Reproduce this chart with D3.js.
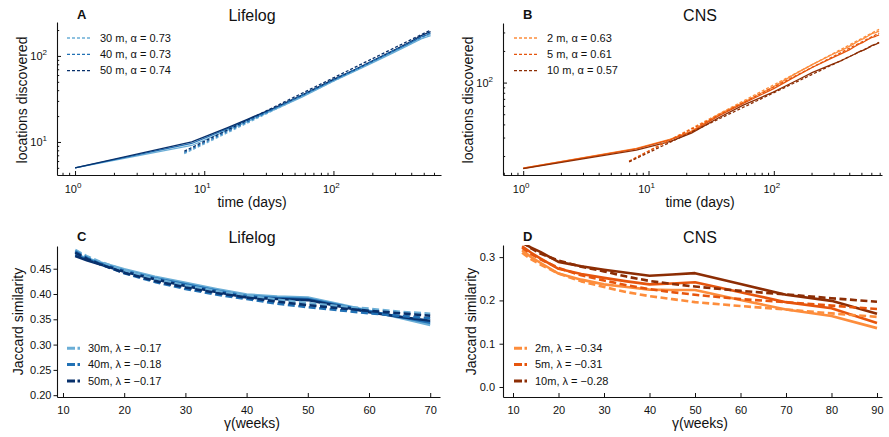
<!DOCTYPE html>
<html>
<head>
<meta charset="utf-8">
<script src="https://cdn.jsdelivr.net/npm/d3@7"></script>
<style>
  body { margin: 0; background: #fff; }
  svg { font-family: "Liberation Sans", Arial, sans-serif; }
</style>
</head>
<body>
<svg id="fig" width="889" height="437"></svg>
<script>
// ---------- A: Lifelog, locations discovered vs. time ----------
const lifelogDays = [1, 8, 15, 22, 36, 57, 99, 148, 204, 295, 400, 477, 565];
const lifelog30m  = [5.0, 9.1, 13.6, 17.5, 24.2, 33.2, 50.5, 67, 84, 110, 138, 158, 172];
const lifelog40m  = [5.0, 9.6, 14.2, 18.2, 25.0, 34.3, 52, 69, 87, 114, 144, 166, 182];
const lifelog50m  = [5.0, 10.0, 14.6, 18.6, 25.5, 35.0, 53, 70, 89, 117, 148, 172, 192];
// power-law fits (straight in log-log), start and end points
const lifelogFitDays = [7, 565];
const lifelogFit30m  = [7.3, 180];
const lifelogFit40m  = [7.55, 186];
const lifelogFit50m  = [7.8, 200];
const lifelogLabels  = ["30 m, \u03b1 = 0.73", "40 m, \u03b1 = 0.73", "50 m, \u03b1 = 0.74"];

// ---------- B: CNS, locations discovered vs. time ----------
const cnsDays = [1, 8, 15, 22, 36, 57, 99, 148, 204, 295, 350, 400, 440, 477, 520, 560, 610, 650, 692];
const cns2m   = [15.3, 23.6, 29.0, 34.5, 49.5, 65, 91, 121, 149, 186, 204, 221, 236, 250, 262, 276, 294, 299, 310];
const cns5m   = [15.3, 23.4, 28.6, 34.0, 48.0, 63.5, 87, 114, 140, 173, 190, 205, 219, 232, 243, 256, 270, 276, 284];
const cns10m  = [15.2, 22.8, 27.6, 33.0, 46.0, 61, 81, 103, 125, 150, 163, 176, 186, 196, 204, 213, 226, 231, 240];
const cnsFitDays = [7, 692];
const cnsFit2m   = [17.8, 322];
const cnsFit5m   = [17.9, 296];
const cnsFit10m  = [17.6, 241];
const cnsLabels  = ["2 m, \u03b1 = 0.63", "5 m, \u03b1 = 0.61", "10 m, \u03b1 = 0.57"];

// ---------- C: Lifelog, Jaccard similarity vs. gap ----------
const weeksC = [12, 14, 16, 20, 25, 30, 35, 40, 45, 50, 55, 60, 65, 70];
const jacLife30m = [0.479, 0.470, 0.463, 0.449, 0.434, 0.422, 0.410, 0.399, 0.395, 0.393, 0.380, 0.367, 0.353, 0.339];
const jacLife40m = [0.477, 0.468, 0.461, 0.446, 0.431, 0.419, 0.407, 0.396, 0.392, 0.390, 0.378, 0.366, 0.355, 0.343];
const jacLife50m = [0.475, 0.466, 0.459, 0.444, 0.429, 0.416, 0.404, 0.393, 0.390, 0.388, 0.376, 0.364, 0.355, 0.347];
const fitLife30m = [0.487, 0.474, 0.464, 0.447, 0.430, 0.417, 0.406, 0.397, 0.389, 0.382, 0.376, 0.371, 0.365, 0.361];
const fitLife40m = [0.484, 0.471, 0.460, 0.441, 0.424, 0.410, 0.399, 0.390, 0.381, 0.374, 0.368, 0.362, 0.357, 0.352];
const fitLife50m = [0.482, 0.469, 0.459, 0.442, 0.426, 0.413, 0.402, 0.393, 0.385, 0.378, 0.372, 0.367, 0.362, 0.357];
const jacLifeLabels = ["30m, \u03bb = \u22120.17", "40m, \u03bb = \u22120.18", "50m, \u03bb = \u22120.17"];

// ---------- D: CNS, Jaccard similarity vs. gap ----------
const weeksD = [12, 14, 16, 20, 25, 30, 35, 40, 45, 50, 60, 70, 80, 90];
const jacCns2m  = [0.316, 0.300, 0.287, 0.262, 0.248, 0.237, 0.231, 0.225, 0.224, 0.224, 0.201, 0.179, 0.164, 0.136];
const jacCns5m  = [0.325, 0.310, 0.297, 0.273, 0.261, 0.252, 0.244, 0.237, 0.239, 0.242, 0.219, 0.196, 0.182, 0.148];
const jacCns10m = [0.333, 0.322, 0.312, 0.289, 0.279, 0.271, 0.264, 0.257, 0.260, 0.263, 0.238, 0.213, 0.199, 0.169];
const fitCns2m  = [0.310, 0.295, 0.283, 0.262, 0.244, 0.231, 0.219, 0.210, 0.203, 0.196, 0.187, 0.179, 0.170, 0.162];
const fitCns5m  = [0.322, 0.307, 0.295, 0.275, 0.258, 0.246, 0.235, 0.226, 0.219, 0.213, 0.203, 0.196, 0.188, 0.180];
const fitCns10m = [0.336, 0.320, 0.308, 0.292, 0.278, 0.267, 0.255, 0.245, 0.238, 0.232, 0.222, 0.214, 0.205, 0.197];
const jacCnsLabels = ["2m, \u03bb = \u22120.34", "5m, \u03bb = \u22120.31", "10m, \u03bb = \u22120.28"];

const blues   = ["#6baed6", "#2171b5", "#08306b"];
const oranges = ["#fd8d3c", "#e6550d", "#8c2d04"];
const ink = "#111";

const svg = d3.select("#fig");
const defs = svg.append("defs");

function addClip(id, x, y) {
  const [x0, x1] = x.range(), [y0, y1] = y.range();
  defs.append("clipPath").attr("id", id).append("rect")
    .attr("x", x0).attr("y", y1).attr("width", x1 - x0).attr("height", y0 - y1);
}

function drawLine(g, id, x, y, xs, ys, color, width, dash) {
  g.append("path")
    .datum(xs.map((d, i) => [d, ys[i]]))
    .attr("clip-path", `url(#${id})`)
    .attr("d", d3.line().x(d => x(d[0])).y(d => y(d[1])))
    .attr("fill", "none")
    .attr("stroke", color)
    .attr("stroke-width", width)
    .attr("stroke-linejoin", "round")
    .attr("stroke-dasharray", dash || null);
}

function styleAxis(sel) {
  sel.selectAll("path.domain").attr("stroke", ink).attr("stroke-width", 1.1);
  sel.selectAll(".tick line").attr("stroke", ink).attr("stroke-width", 1);
  sel.selectAll("text").attr("fill", ink).attr("font-size", 11)
    .attr("font-family", "Liberation Sans, Arial, sans-serif");
}

function minorLog(lo, hi) {
  const out = [];
  for (let e = -1; e <= 3; e++) for (let m = 2; m <= 9; m++) {
    const v = m * Math.pow(10, e);
    if (v > lo && v < hi) out.push(v);
  }
  return out;
}

function powLabel(g, x, y, exp, anchor) {
  const t = g.append("text").attr("x", x).attr("y", y).attr("fill", ink)
    .attr("font-size", 11).attr("text-anchor", anchor);
  t.append("tspan").text("10");
  t.append("tspan").attr("dy", -5).attr("font-size", 8).text(exp);
}

function titles(g, letter, letterX, title, titleX, baseY) {
  g.append("text").attr("x", letterX).attr("y", baseY - 2).attr("font-weight", "bold")
    .attr("font-size", 13).attr("fill", ink).text(letter);
  g.append("text").attr("x", titleX).attr("y", baseY).attr("text-anchor", "middle")
    .attr("font-size", 16).attr("fill", ink).text(title);
}

function yTitle(g, cx, cy, text) {
  g.append("text").attr("transform", `translate(${cx},${cy}) rotate(-90)`)
    .attr("text-anchor", "middle").attr("dy", "0.35em")
    .attr("font-size", 14).attr("fill", ink).text(text);
}

function xTitle(g, cx, by, text) {
  g.append("text").attr("x", cx).attr("y", by).attr("text-anchor", "middle")
    .attr("font-size", 14).attr("fill", ink).text(text);
}

// ---------- log-log discovery panel ----------
function logPanel(o) {
  const g = svg.append("g");
  const { x, y, id } = o;
  addClip(id, x, y);
  const [xl, xr] = x.range(), [yb, yt] = y.range();

  o.solid.forEach((s, i) => drawLine(g, id, x, y, o.days, s, o.colors[i], 1.3));
  o.fits.forEach((s, i) => drawLine(g, id, x, y, o.fitDays, s, o.colors[i], 1.3, "3,2"));

  // axes, ticks pointing inward
  const xd = x.domain(), yd = y.domain();
  const xa = g.append("g").attr("transform", `translate(0,${yb})`)
    .call(d3.axisBottom(x).tickValues(o.xMajor).tickSizeInner(-4).tickSizeOuter(0).tickFormat(""));
  g.append("g").attr("transform", `translate(0,${yb})`)
    .call(d3.axisBottom(x).tickValues(minorLog(xd[0], xd[1])).tickSizeInner(-2.2).tickSizeOuter(0).tickFormat(""))
    .call(s => s.select("path.domain").remove()).call(styleAxis);
  styleAxis(xa);
  const ya = g.append("g").attr("transform", `translate(${xl},0)`)
    .call(d3.axisLeft(y).tickValues(o.yMajor).tickSizeInner(-4).tickSizeOuter(0).tickFormat(""));
  g.append("g").attr("transform", `translate(${xl},0)`)
    .call(d3.axisLeft(y).tickValues(minorLog(yd[0], yd[1])).tickSizeInner(-2.2).tickSizeOuter(0).tickFormat(""))
    .call(s => s.select("path.domain").remove()).call(styleAxis);
  styleAxis(ya);

  o.xMajor.forEach(v => powLabel(g, x(v) - 2, yb + 18, Math.round(Math.log10(v)), "middle"));
  o.yMajor.forEach(v => powLabel(g, xl - 10, y(v) + 4, Math.round(Math.log10(v)), "end"));

  // legend
  o.labels.forEach((t, i) => {
    const ly = o.legY + i * 16.3;
    g.append("line").attr("x1", o.legX).attr("x2", o.legX + 24).attr("y1", ly).attr("y2", ly)
      .attr("stroke", o.colors[i]).attr("stroke-width", 1.3).attr("stroke-dasharray", "3,2");
    g.append("text").attr("x", o.legX + 33).attr("y", ly).attr("dy", "0.35em")
      .attr("font-size", 11).attr("fill", ink).text(t);
  });

  titles(g, o.letter, xl + 20, o.title, o.titleX, 21);
  yTitle(g, o.yTitleX, 100, "locations discovered");
  xTitle(g, o.titleX, 207, "time (days)");
}

// ---------- linear Jaccard panel ----------
function linPanel(o) {
  const g = svg.append("g");
  const { x, y, id } = o;
  addClip(id, x, y);
  const [xl, xr] = x.range(), [yb, yt] = y.range();

  o.solid.forEach((s, i) => drawLine(g, id, x, y, o.weeks, s, o.colors[i], 2.6));
  o.fits.forEach((s, i) => drawLine(g, id, x, y, o.weeks, s, o.colors[i], 2.6, "7,3.5"));

  const xa = g.append("g").attr("transform", `translate(0,${yb})`)
    .call(d3.axisBottom(x).tickValues(o.xTicks).tickSizeInner(-4).tickSizeOuter(0).tickPadding(9));
  styleAxis(xa);
  const ya = g.append("g").attr("transform", `translate(${xl},0)`)
    .call(d3.axisLeft(y).tickValues(o.yTicks).tickSizeInner(3.5).tickSizeOuter(0)
      .tickPadding(o.yPad).tickFormat(d3.format(o.yFmt)));
  styleAxis(ya);

  o.labels.forEach((t, i) => {
    const ly = o.legY + i * 16.3;
    g.append("line").attr("x1", o.legX).attr("x2", o.legX + 13).attr("y1", ly).attr("y2", ly)
      .attr("stroke", o.colors[i]).attr("stroke-width", 3).attr("stroke-dasharray", "8,2.5,2.5,20");
    g.append("text").attr("x", o.legX + 21).attr("y", ly).attr("dy", "0.35em")
      .attr("font-size", 11).attr("fill", ink).text(t);
  });

  titles(g, o.letter, xl + 20, o.title, o.titleX, 243);
  yTitle(g, o.yTitleX, 321.5, "Jaccard similarity");
  xTitle(g, o.titleX, 428, "\u03b3(weeks)");
}

logPanel({
  id: "clipA", letter: "A", title: "Lifelog", titleX: 252, yTitleX: 22,
  x: d3.scaleLog().domain([0.725, 680]).range([57, 441]),
  y: d3.scaleLog().domain([4.13, 248]).range([175, 22]),
  days: lifelogDays, solid: [lifelog30m, lifelog40m, lifelog50m],
  fitDays: lifelogFitDays, fits: [lifelogFit30m, lifelogFit40m, lifelogFit50m],
  colors: blues, labels: lifelogLabels, legX: 67, legY: 38,
  xMajor: [1, 10, 100], yMajor: [10, 100]
});

logPanel({
  id: "clipB", letter: "B", title: "CNS", titleX: 700, yTitleX: 468,
  x: d3.scaleLog().domain([0.69, 730]).range([503, 882]),
  y: d3.scaleLog().domain([13.2, 369]).range([175, 23]),
  days: cnsDays, solid: [cns2m, cns5m, cns10m],
  fitDays: cnsFitDays, fits: [cnsFit2m, cnsFit5m, cnsFit10m],
  colors: oranges, labels: cnsLabels, legX: 514, legY: 38,
  xMajor: [1, 10, 100], yMajor: [100]
});

linPanel({
  id: "clipC", letter: "C", title: "Lifelog", titleX: 252, yTitleX: 18,
  x: d3.scaleLinear().domain([9.02, 71.6]).range([57, 440]),
  y: d3.scaleLinear().domain([0.1964, 0.4949]).range([397, 246]),
  weeks: weeksC, solid: [jacLife30m, jacLife40m, jacLife50m],
  fits: [fitLife30m, fitLife40m, fitLife50m],
  colors: blues, labels: jacLifeLabels, legX: 67, legY: 348.3,
  xTicks: [10, 20, 30, 40, 50, 60, 70], yTicks: [0.20, 0.25, 0.30, 0.35, 0.40, 0.45],
  yFmt: ".2f", yPad: 2
});

linPanel({
  id: "clipD", letter: "D", title: "CNS", titleX: 700, yTitleX: 471,
  x: d3.scaleLinear().domain([7.8, 91.1]).range([503, 882]),
  y: d3.scaleLinear().domain([-0.0231, 0.328]).range([397, 245]),
  weeks: weeksD, solid: [jacCns2m, jacCns5m, jacCns10m],
  fits: [fitCns2m, fitCns5m, fitCns10m],
  colors: oranges, labels: jacCnsLabels, legX: 514, legY: 348.3,
  xTicks: [10, 20, 30, 40, 50, 60, 70, 80, 90], yTicks: [0.0, 0.1, 0.2, 0.3],
  yFmt: ".1f", yPad: 4.5
});
</script>
</body>
</html>
